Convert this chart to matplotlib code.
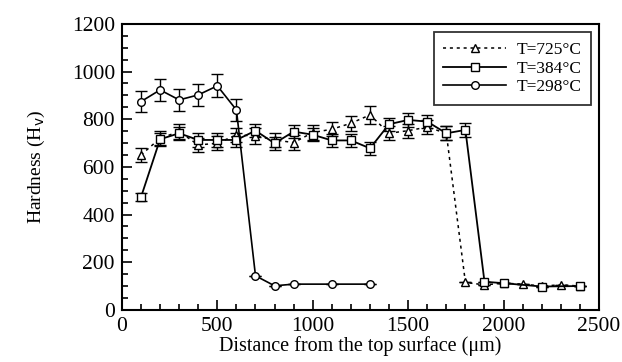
import matplotlib
matplotlib.use("Agg")
import matplotlib.pyplot as plt
from matplotlib.ticker import MultipleLocator
from matplotlib.lines import Line2D

plt.rcParams['font.family'] = ['Liberation Serif', 'DejaVu Serif']

# T = 725 C (triangles)
x725 = [100, 200, 300, 400, 500, 600, 700, 800, 900, 1000, 1100, 1200, 1300, 1400,
        1500, 1600, 1700, 1800, 1900, 2000, 2100, 2200, 2300, 2400]
y725 = [650, 720, 748, 692, 699, 734, 730, 713, 702, 744, 758, 783, 818, 741,
        752, 767, 741, 115, 105, 112, 108, 100, 105, 100]
e725 = [30, 30, 32, 30, 30, 30, 32, 30, 30, 30, 30, 32, 37, 30,
        30, 30, 30, 0, 0, 0, 0, 0, 0, 0]

# T = 384 C (squares)
x384 = [100, 200, 300, 400, 500, 600, 700, 800, 900, 1000, 1100, 1200, 1300, 1400,
        1500, 1600, 1700, 1800, 1900, 2000, 2200, 2400]
y384 = [473, 716, 741, 713, 713, 713, 752, 699, 748, 735, 711, 711, 678, 779,
        797, 790, 741, 755, 118, 112, 98, 100]
e384 = [18, 28, 28, 28, 28, 28, 28, 28, 28, 28, 28, 28, 28, 28,
        28, 28, 30, 30, 0, 0, 0, 0]

# T = 298 C (circles)
x298 = [100, 200, 300, 400, 500, 600, 700, 800, 900, 1100, 1300]
y298 = [874, 923, 881, 902, 940, 839, 143, 101, 108, 108, 108]
e298 = [45, 45, 45, 45, 48, 47, 0, 0, 0, 0, 0]

labels = ['T=725\u00b0C', 'T=384\u00b0C', 'T=298\u00b0C']

fig = plt.figure(figsize=(6.22, 3.62), dpi=100)
ax = fig.add_axes([0.196, 0.144, 0.767, 0.79])

common = dict(color='black', mfc='white', mec='black', ecolor='black',
              elinewidth=1.0, capsize=4, capthick=1.0, markersize=5.5, mew=1.0)

dash725 = (0, (2, 2.5))
ax.errorbar(x725, y725, yerr=e725, marker='^', linestyle=dash725, linewidth=1.1, **common)
ax.errorbar(x384, y384, yerr=e384, marker='s', linestyle='-', linewidth=1.3, **common)
ax.errorbar(x298, y298, yerr=e298, marker='o', linestyle='-', linewidth=1.2, **common)

ax.set_xlim(0, 2500)
ax.set_ylim(0, 1200)
ax.xaxis.set_major_locator(MultipleLocator(500))
ax.xaxis.set_minor_locator(MultipleLocator(100))
ax.yaxis.set_major_locator(MultipleLocator(200))
ax.yaxis.set_minor_locator(MultipleLocator(50))
ax.tick_params(which='both', direction='in', top=False, right=False, labelsize=15.5, width=1.2)
ax.tick_params(which='major', length=7)
ax.tick_params(which='minor', length=4)
ax.tick_params(axis='x', pad=5)
ax.tick_params(axis='y', pad=5)
for s in ax.spines.values():
    s.set_linewidth(1.5)

ax.set_xlabel('Distance from the top surface (\u03bcm)', fontsize=14.5, labelpad=0)
ax.set_ylabel('Hardness (H$_\\mathrm{v}$)', fontsize=14, labelpad=18)

handles = [
    Line2D([], [], color='black', linestyle=dash725, linewidth=1.1, marker='^',
           mfc='white', mec='black', markersize=5.5),
    Line2D([], [], color='black', linestyle='-', linewidth=1.3, marker='s',
           mfc='white', mec='black', markersize=5.5),
    Line2D([], [], color='black', linestyle='-', linewidth=1.2, marker='o',
           mfc='white', mec='black', markersize=5.5),
]
leg = ax.legend(handles, labels, loc='upper right', bbox_to_anchor=(0.99, 0.983), fontsize=12.5,
                frameon=True, fancybox=False, edgecolor='black', handlelength=3.6,
                borderpad=0.55, labelspacing=0.15, handletextpad=0.6, borderaxespad=0.2)
leg.get_frame().set_linewidth(1.3)

fig.savefig('out.png', dpi=100)
